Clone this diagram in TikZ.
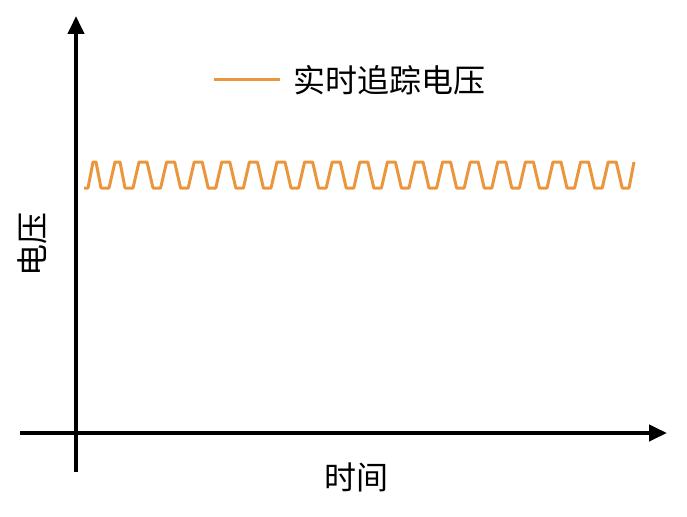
\documentclass[tikz,border=0pt]{standalone}
\usepackage{fontspec}
\setmainfont{Noto Sans CJK SC}
\usetikzlibrary{arrows.meta}
\begin{document}
\begin{tikzpicture}[x=1pt,y=-1pt,
  ax/.style={line width=4pt,-{Triangle[length=18pt,width=16pt]}},
  wave/.style={draw={rgb,255:red,235;green,150;blue,60},line width=3pt,line join=round},
  lbl/.style={font=\fontsize{32}{36}\selectfont,inner sep=0}]
\useasboundingbox (0,0) rectangle (687,516);
\coordinate (y0) at (76,472);
\coordinate (y1) at (76,16);
\coordinate (x0) at (20,433);
\coordinate (x1) at (667,433);
\draw[ax] (y0) -- (y1);
\draw[ax] (x0) -- (x1);
\draw[wave] (84,188) -- (88,188) -- (93,162) -- (96,162) -- (101,188) -- (109,188) -- (115,162) -- (120,162) -- (125,188)
  \foreach \i in {0,...,17} { -- ({133+27.6*\i},188) -- ({139+27.6*\i},162) -- ({147+27.6*\i},162) -- ({153+27.6*\i},188) }
  -- (629,188) -- (634,162);
\draw[wave] (214,80) -- (280,80);
\node[lbl,anchor=west] (leg) at (293,80) {实时追踪电压};
\node[lbl,rotate=90] (yl) at (32,244) {电压};
\node[lbl] (xl) at (356,477) {时间};
\end{tikzpicture}
\end{document}
